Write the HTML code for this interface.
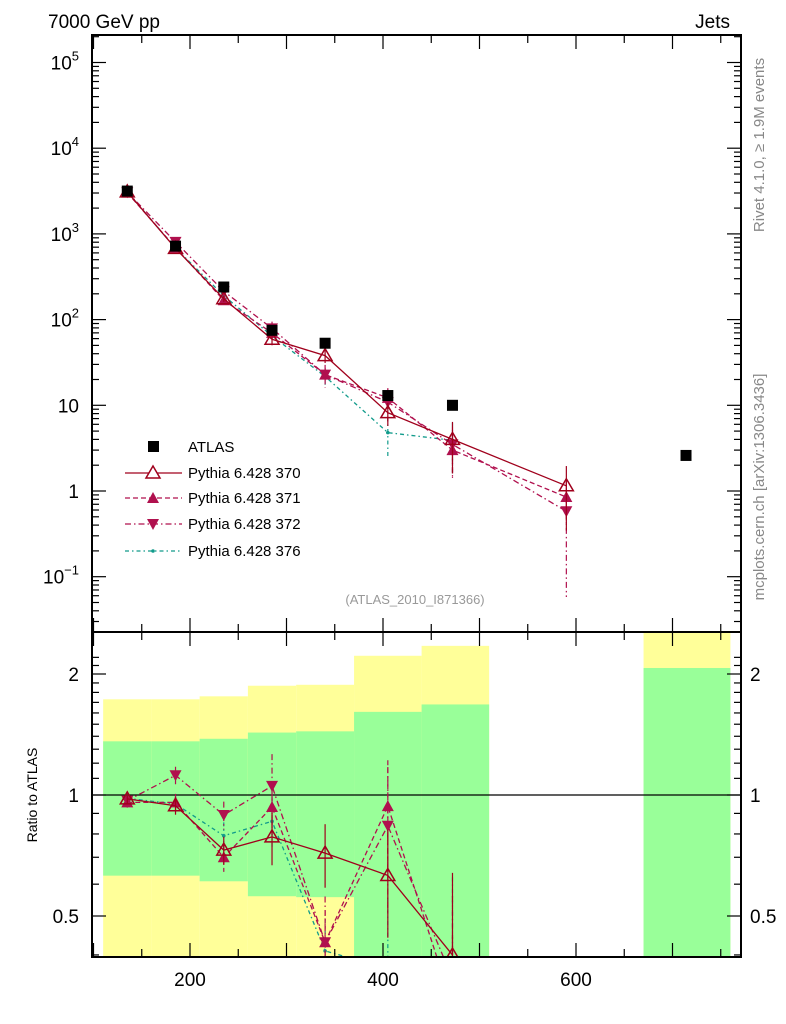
<!DOCTYPE html>
<html><head><meta charset="utf-8"><style>
html,body{margin:0;background:#fff;width:786px;height:1024px;overflow:hidden;position:relative}
svg{display:block;font-family:"Liberation Sans",sans-serif}
</style></head><body>
<svg id="c" width="786" height="1024" style="position:absolute;left:0;top:0"></svg>
<script>
const xs = [135,185,235,285,340,405,472,590,714];
const atlas = [3160,720,240,75,53,13,10,null,2.6];
const p370 = [3090,677,175,59,38,8.2,4.0,1.15,null];
const p371 = [3030,690,168,70,22.8,12.2,3.0,0.85,null];
const p372 = [3060,806,214,79,22.8,10.9,3.5,0.58,null];
const p376 = [3100,684,190,64.5,21.7,4.8,3.9,null,null];
const relErr370 = [0.03,0.05,0.08,0.15,0.18,0.30,0.6,0.7,0];
const relErr371 = [0.03,0.05,0.08,0.15,0.2,0.3,0.5,0.5,0];
const relErr372 = [0.03,0.05,0.08,0.2,0.3,0.4,0.6,0.9,0];
const relErr376 = [0.03,0.05,0.08,0.15,0.2,0.5,0.6,0,0];
const binEdges = [110,160,210,260,310,370,440,510];
const greenHi = [1.36,1.36,1.38,1.43,1.44,1.61,1.68];
const greenLo = [0.63,0.63,0.61,0.56,0.557,0.3,0.3];
const yellowHi = [1.73,1.73,1.76,1.87,1.88,2.22,2.35];
const yellowLo = [0.3,0.3,0.3,0.3,0.3,0.3,0.3];
const lastBin = [670,760]; const lastGreen=[0.3,2.07]; const lastYellow=[0.3,3];
const yTicksMain = [["10","5"],["10","4"],["10","3"],["10","2"],["10",""],["1",""],["10","−1"]];
const yTickVals = [1e5,1e4,1e3,100,10,1,0.1];
const xTickVals = [200,400,600];
const ratioTicks = [2,1,0.5];

const NS="http://www.w3.org/2000/svg", svg=document.getElementById('c');
function el(t,a,p){const e=document.createElementNS(NS,t);for(const k in a)e.setAttribute(k,a[k]);(p||svg).appendChild(e);return e;}
const L=92,R=741,T=35,M=632,B=957;
const X=v=>190+(v-200)*0.965;
const Y=v=>491-Math.log10(v)*85.7;
const RY=v=>795-Math.log2(v)*121;
const clipR=v=>Math.min(B,Math.max(M,RY(v)));

for(let i=0;i<greenHi.length;i++){
  const x0=X(binEdges[i]),w=X(binEdges[i+1])-x0;
  const y=el('rect',{x:x0,y:clipR(yellowHi[i]),width:w,height:clipR(yellowLo[i])-clipR(yellowHi[i]),fill:'#ffff99'});
  
  
  const g=el('rect',{x:x0,y:clipR(greenHi[i]),width:w,height:clipR(greenLo[i])-clipR(greenHi[i]),fill:'#99ff99'});
  
  
}
{const x0=X(lastBin[0]),w=X(lastBin[1])-x0;
 const y=el('rect',{x:x0,y:clipR(lastYellow[1]),width:w,height:clipR(lastYellow[0])-clipR(lastYellow[1]),fill:'#ffff99'});
 
 
 const g=el('rect',{x:x0,y:clipR(lastGreen[1]),width:w,height:clipR(lastGreen[0])-clipR(lastGreen[1]),fill:'#99ff99'});
 
 }
el('line',{x1:L,x2:R,y1:RY(1),y2:RY(1),stroke:'#000','stroke-width':1.2});

const series=[
 {name:'370',v:p370,e:relErr370,c:'#a0001c',dash:'',mk:'open'},
 {name:'371',v:p371,e:relErr371,c:'#b0104e',dash:'5,3',mk:'up'},
 {name:'372',v:p372,e:relErr372,c:'#b0104e',dash:'6,3,1.5,3',mk:'down'},
 {name:'376',v:p376,e:relErr376,c:'#119b8b',dash:'4,3,1.5,3',mk:'dot'}];
function marker(g,kind,x,y,c){
  if(kind==='open')el('path',{d:`M${x},${y-7}L${x+7},${y+5}L${x-7},${y+5}Z`,fill:'none',stroke:c,'stroke-width':1.5},g);
  else if(kind==='up')el('path',{d:`M${x},${y-6}L${x+6},${y+5}L${x-6},${y+5}Z`,fill:c},g);
  else if(kind==='down')el('path',{d:`M${x},${y+6}L${x+6},${y-5}L${x-6},${y-5}Z`,fill:c},g);
  else el('circle',{cx:x,cy:y,r:1.8,fill:c},g);
}
const clip=el('clipPath',{id:'cm'});el('rect',{x:L,y:T,width:R-L,height:M-T},clip);
const clip2=el('clipPath',{id:'cr'});el('rect',{x:L,y:M,width:R-L,height:B-M},clip2);
series.slice().reverse().forEach(s=>{
  const g=el('g',{'clip-path':'url(#cm)'});
  
  
  let pts=[];
  s.v.forEach((v,i)=>{if(v!=null)pts.push([X(xs[i]),Y(v)]);});
  el('polyline',{points:pts.map(p=>p.join(',')).join(' '),fill:'none',stroke:s.c,'stroke-width':1.3,'stroke-dasharray':s.dash},g);
  s.v.forEach((v,i)=>{if(v==null)return;const x=X(xs[i]);
    const lo=Math.max(v*(1-s.e[i]),1e-3),hi=v*(1+s.e[i]);
    el('line',{x1:x,x2:x,y1:Y(hi),y2:Y(lo),stroke:s.c,'stroke-width':1.2,'stroke-dasharray':s.dash},g);
    marker(g,s.mk,x,Y(v),s.c);});
  const g2=el('g',{'clip-path':'url(#cr)'});
  
  
  pts=[];
  s.v.forEach((v,i)=>{if(v!=null&&atlas[i]!=null)pts.push([X(xs[i]),RY(v/atlas[i])]);});
  el('polyline',{points:pts.map(p=>p.join(',')).join(' '),fill:'none',stroke:s.c,'stroke-width':1.3,'stroke-dasharray':s.dash},g2);
  s.v.forEach((v,i)=>{if(v==null||atlas[i]==null)return;const x=X(xs[i]),r=v/atlas[i];
    el('line',{x1:x,x2:x,y1:RY(r*(1+s.e[i])),y2:RY(Math.max(r*(1-s.e[i]),0.01)),stroke:s.c,'stroke-width':1.2,'stroke-dasharray':s.dash},g2);
    marker(g2,s.mk,x,RY(r),s.c);});
});
atlas.forEach((v,i)=>{if(v==null)return;const r=el('rect',{x:X(xs[i])-5.5,y:Y(v)-5.5,width:11,height:11,fill:'#000'});
  
  });

el('rect',{x:L,y:T,width:R-L,height:M-T,fill:'none',stroke:'#000','stroke-width':2});
el('rect',{x:L,y:M,width:R-L,height:B-M,fill:'none',stroke:'#000','stroke-width':2});
for(let v=100;v<=760;v+=50){const x=X(v);if(x<L||x>R)continue;const big=v%100===0;const h=big?14:8;
  [[T,1],[M,-1],[M,1],[B,-1]].forEach(([y,d])=>el('line',{x1:x,x2:x,y1:y,y2:y+d*h,stroke:'#000','stroke-width':1.2}));}
xTickVals.forEach(v=>{const t=el('text',{x:X(v),y:986,'font-size':19,'text-anchor':'middle'});t.textContent=v;
  
  });
for(let d=-2;d<=5;d++)for(let m=1;m<10;m++){const y=Y(m*Math.pow(10,d));if(y<T||y>M)continue;const h=m===1?14:7;
  el('line',{x1:L,x2:L+h,y1:y,y2:y,stroke:'#000','stroke-width':1.2});el('line',{x1:R,x2:R-h,y1:y,y2:y,stroke:'#000','stroke-width':1.2});}
yTickVals.forEach((v,i)=>{const t=el('text',{x:79,y:Y(v)+7,'font-size':19,'text-anchor':'end'});
  const [b,e]=yTicksMain[i];
  if(e){t.innerHTML=b+'<tspan dy="-9" font-size="13">'+e+'</tspan>';}else t.textContent=b;
  
  });
[0.4,0.5,0.6,0.7,0.8,0.9,1,1.1,1.2,1.3,1.4,1.5,1.6,1.7,1.8,1.9,2,2.1,2.2].forEach(v=>{const y=RY(v);if(y<M||y>B)return;
  const h=(v===1||v===2||v===0.5)?14:7;
  el('line',{x1:L,x2:L+h,y1:y,y2:y,stroke:'#000','stroke-width':1.2});el('line',{x1:R,x2:R-h,y1:y,y2:y,stroke:'#000','stroke-width':1.2});});
ratioTicks.forEach(v=>{[[79,'end'],[750,'start']].forEach(([x,a])=>{const t=el('text',{x:x,y:RY(v)+7,'font-size':19,'text-anchor':a});t.textContent=v;
  
  });});
</script>
<svg style="position:absolute;left:0;top:0" width="786" height="1024">
<g font-family="Liberation Sans, sans-serif">
<text x="48" y="28" font-size="19">7000 GeV pp</text>
<text x="730" y="28" font-size="19" text-anchor="end">Jets</text>
<text transform="translate(764,145) rotate(-90)" font-size="15" fill="#888" text-anchor="middle">Rivet 4.1.0, ≥ 1.9M events</text>
<text transform="translate(764,487) rotate(-90)" font-size="15" fill="#888" text-anchor="middle">mcplots.cern.ch [arXiv:1306.3436]</text>
<text x="415" y="604" font-size="13" fill="#999" text-anchor="middle">(ATLAS_2010_I871366)</text>
<text transform="translate(37,795) rotate(-90)" font-size="14" text-anchor="middle">Ratio to ATLAS</text>
<g font-size="15">
<rect x="148" y="441" width="11" height="11" fill="#000"/><text x="188" y="452">ATLAS</text>
<line x1="125" x2="182" y1="473" y2="473" stroke="#a0001c" stroke-width="1.3"/><path d="M153,466L160,478L146,478Z" fill="#fff" stroke="#a0001c" stroke-width="1.5"/><text x="188" y="478">Pythia 6.428 370</text>
<line x1="125" x2="182" y1="498" y2="498" stroke="#b0104e" stroke-width="1.3" stroke-dasharray="5,3"/><path d="M153,492L159,503L147,503Z" fill="#b0104e"/><text x="188" y="503">Pythia 6.428 371</text>
<line x1="125" x2="182" y1="524" y2="524" stroke="#b0104e" stroke-width="1.3" stroke-dasharray="6,3,1.5,3"/><path d="M153,530L159,519L147,519Z" fill="#b0104e"/><text x="188" y="529">Pythia 6.428 372</text>
<line x1="125" x2="182" y1="551" y2="551" stroke="#119b8b" stroke-width="1.3" stroke-dasharray="4,3,1.5,3"/><circle cx="153" cy="551" r="1.8" fill="#119b8b"/><text x="188" y="556">Pythia 6.428 376</text>
</g></g></svg>
</body></html>
